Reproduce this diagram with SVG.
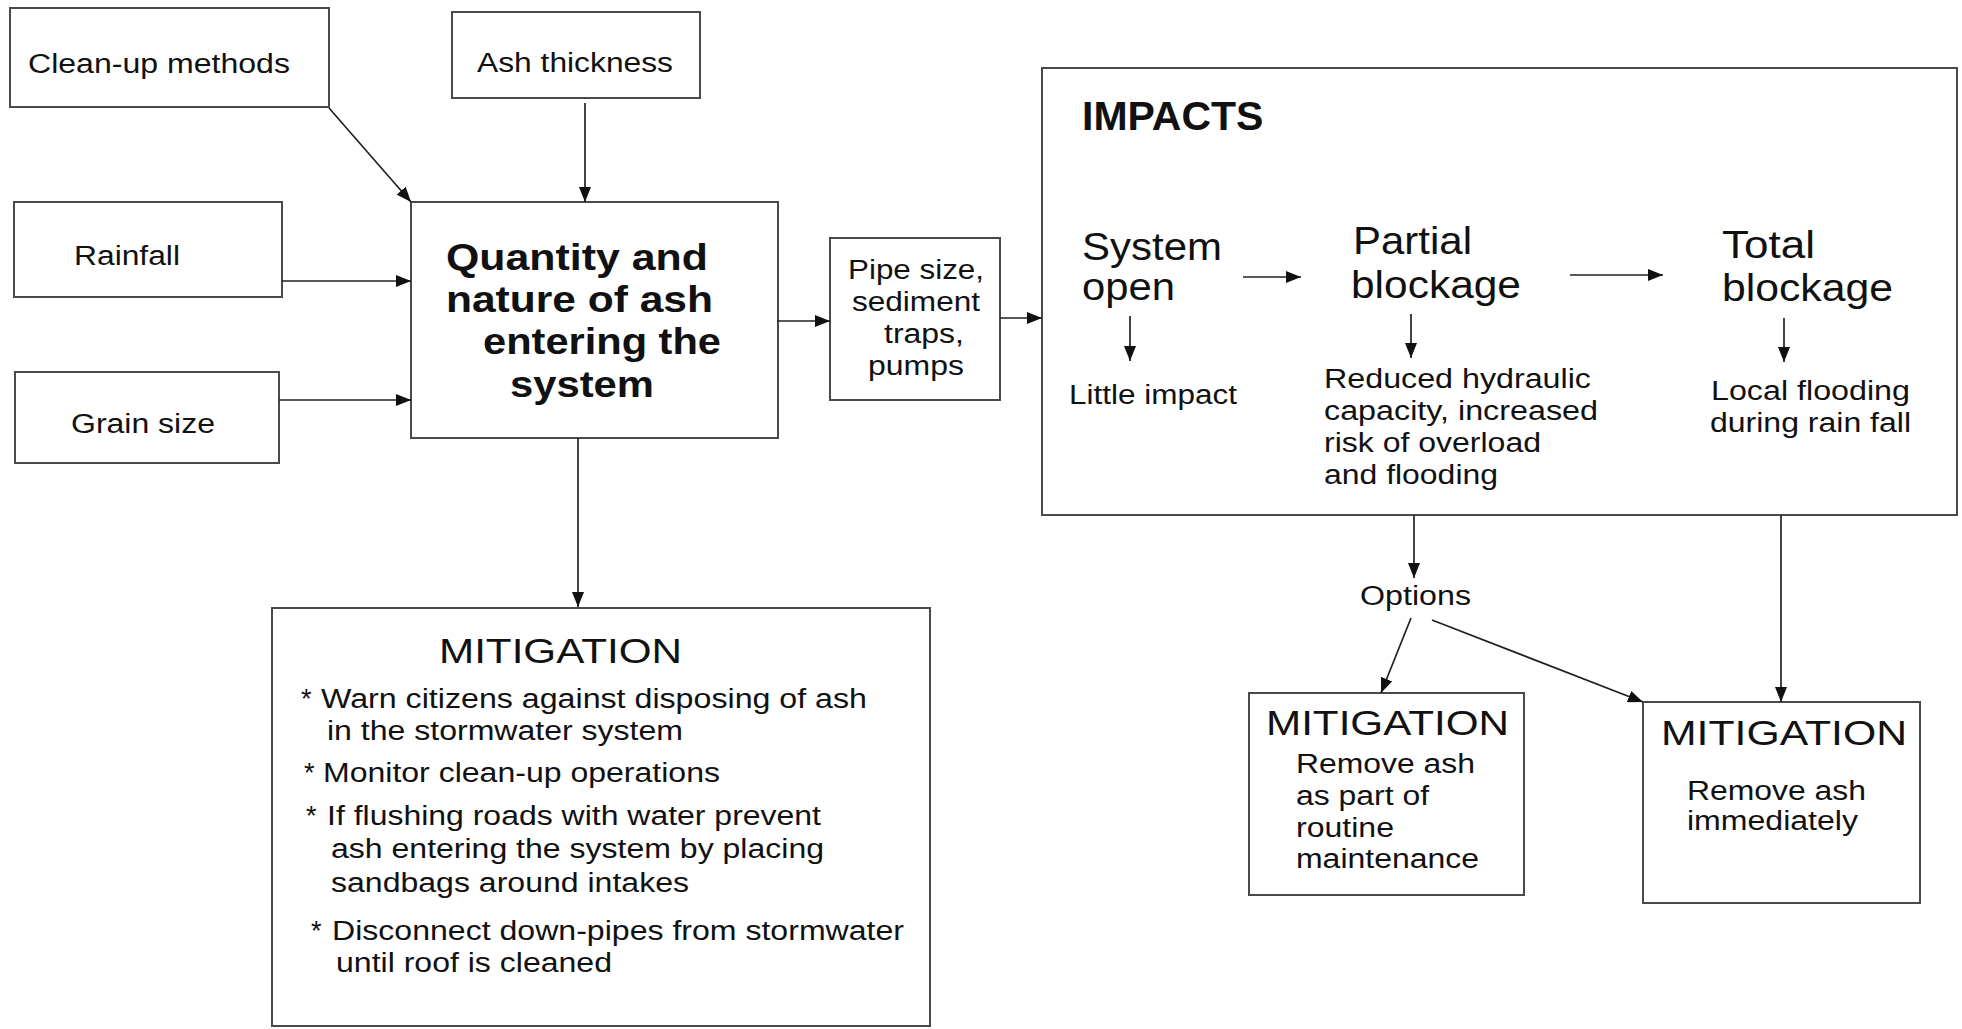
<svg xmlns="http://www.w3.org/2000/svg" width="1962" height="1029" viewBox="0 0 1962 1029">
  <style>
    .box { fill: #ffffff; stroke: #4a4a4a; stroke-width: 2; }
    .t { font-family: "Liberation Sans", Arial, sans-serif; font-size: 27px; fill: #111111; }
    .head { font-size: 38px; }
    .mit { font-size: 35px; }
    .bold { font-weight: bold; font-size: 37px; }
    .conn line { stroke: #222222; stroke-width: 1.7; marker-end: url(#arrow); }
  </style>
  <defs>
    <marker id="arrow" markerUnits="userSpaceOnUse" markerWidth="16" markerHeight="12" refX="15" refY="6" orient="auto">
      <path d="M0,0 L15,6 L0,12 z" fill="#111111"/>
    </marker>
  </defs>
  <rect width="1962" height="1029" fill="#ffffff"/>

  <!-- input factors -->
  <g id="cleanup">
    <rect class="box" x="10" y="8" width="319" height="99"/>
    <text class="t" x="28" y="73" textLength="262" lengthAdjust="spacingAndGlyphs">Clean-up methods</text>
  </g>
  <g id="ash-thickness">
    <rect class="box" x="452" y="12" width="248" height="86"/>
    <text class="t" x="477" y="72" textLength="196" lengthAdjust="spacingAndGlyphs">Ash thickness</text>
  </g>
  <g id="rainfall">
    <rect class="box" x="14" y="202" width="268" height="95"/>
    <text class="t" x="74" y="265" textLength="106" lengthAdjust="spacingAndGlyphs">Rainfall</text>
  </g>
  <g id="grain-size">
    <rect class="box" x="15" y="372" width="264" height="91"/>
    <text class="t" x="71" y="433" textLength="144" lengthAdjust="spacingAndGlyphs">Grain size</text>
  </g>

  <!-- central box -->
  <g id="quantity">
    <rect class="box" x="411" y="202" width="367" height="236"/>
    <text class="t bold" x="446" y="270" textLength="262" lengthAdjust="spacingAndGlyphs">Quantity and</text>
    <text class="t bold" x="446" y="312" textLength="267" lengthAdjust="spacingAndGlyphs">nature of ash</text>
    <text class="t bold" x="483" y="354" textLength="238" lengthAdjust="spacingAndGlyphs">entering the</text>
    <text class="t bold" x="510" y="397" textLength="144" lengthAdjust="spacingAndGlyphs">system</text>
  </g>

  <g id="pipe">
    <rect class="box" x="830" y="238" width="170" height="162"/>
    <text class="t" x="848" y="279" textLength="136" lengthAdjust="spacingAndGlyphs">Pipe size,</text>
    <text class="t" x="852" y="311" textLength="128" lengthAdjust="spacingAndGlyphs">sediment</text>
    <text class="t" x="884" y="343" textLength="80" lengthAdjust="spacingAndGlyphs">traps,</text>
    <text class="t" x="868" y="375" textLength="96" lengthAdjust="spacingAndGlyphs">pumps</text>
  </g>

  <!-- impacts panel -->
  <g id="impacts">
    <rect class="box" x="1042" y="68" width="915" height="447"/>
    <text class="t bold" x="1082" y="130" style="font-size:41px">IMPACTS</text>
    <text class="t head" x="1082" y="260" textLength="140" lengthAdjust="spacingAndGlyphs">System</text>
    <text class="t head" x="1082" y="300" textLength="93" lengthAdjust="spacingAndGlyphs">open</text>
    <text class="t head" x="1353" y="254" textLength="119" lengthAdjust="spacingAndGlyphs">Partial</text>
    <text class="t head" x="1351" y="298" textLength="170" lengthAdjust="spacingAndGlyphs">blockage</text>
    <text class="t head" x="1722" y="258" textLength="93" lengthAdjust="spacingAndGlyphs">Total</text>
    <text class="t head" x="1722" y="301" textLength="171" lengthAdjust="spacingAndGlyphs">blockage</text>
    <text class="t" x="1069" y="404" textLength="168" lengthAdjust="spacingAndGlyphs">Little impact</text>
    <text class="t" x="1324" y="388" textLength="267" lengthAdjust="spacingAndGlyphs">Reduced hydraulic</text>
    <text class="t" x="1324" y="420" textLength="274" lengthAdjust="spacingAndGlyphs">capacity, increased</text>
    <text class="t" x="1324" y="452" textLength="217" lengthAdjust="spacingAndGlyphs">risk of overload</text>
    <text class="t" x="1324" y="484" textLength="174" lengthAdjust="spacingAndGlyphs">and flooding</text>
    <text class="t" x="1711" y="400" textLength="199" lengthAdjust="spacingAndGlyphs">Local flooding</text>
    <text class="t" x="1710" y="432" textLength="201" lengthAdjust="spacingAndGlyphs">during rain fall</text>
  </g>

  <g id="options">
    <text class="t" x="1360" y="605" textLength="111" lengthAdjust="spacingAndGlyphs">Options</text>
  </g>

  <!-- mitigation boxes -->
  <g id="mitigation-main">
    <rect class="box" x="272" y="608" width="658" height="418"/>
    <text class="t mit" x="439" y="663" textLength="243" lengthAdjust="spacingAndGlyphs">MITIGATION</text>
    <text class="t" x="301" y="708">*</text>
    <text class="t" x="321" y="708" textLength="546" lengthAdjust="spacingAndGlyphs">Warn citizens against disposing of ash</text>
    <text class="t" x="327" y="740" textLength="356" lengthAdjust="spacingAndGlyphs">in the stormwater system</text>
    <text class="t" x="304" y="782">*</text>
    <text class="t" x="323" y="782" textLength="397" lengthAdjust="spacingAndGlyphs">Monitor clean-up operations</text>
    <text class="t" x="306" y="825">*</text>
    <text class="t" x="327" y="825" textLength="494" lengthAdjust="spacingAndGlyphs">If flushing roads with water prevent</text>
    <text class="t" x="331" y="858" textLength="493" lengthAdjust="spacingAndGlyphs">ash entering the system by placing</text>
    <text class="t" x="331" y="892" textLength="358" lengthAdjust="spacingAndGlyphs">sandbags around intakes</text>
    <text class="t" x="311" y="940">*</text>
    <text class="t" x="332" y="940" textLength="572" lengthAdjust="spacingAndGlyphs">Disconnect down-pipes from stormwater</text>
    <text class="t" x="336" y="972" textLength="276" lengthAdjust="spacingAndGlyphs">until roof is cleaned</text>
  </g>
  <g id="mitigation-routine">
    <rect class="box" x="1249" y="693" width="275" height="202"/>
    <text class="t mit" x="1266" y="735" textLength="243" lengthAdjust="spacingAndGlyphs">MITIGATION</text>
    <text class="t" x="1296" y="773" textLength="179" lengthAdjust="spacingAndGlyphs">Remove ash</text>
    <text class="t" x="1296" y="805" textLength="133" lengthAdjust="spacingAndGlyphs">as part of</text>
    <text class="t" x="1296" y="837" textLength="98" lengthAdjust="spacingAndGlyphs">routine</text>
    <text class="t" x="1296" y="868" textLength="183" lengthAdjust="spacingAndGlyphs">maintenance</text>
  </g>
  <g id="mitigation-immediate">
    <rect class="box" x="1643" y="702" width="277" height="201"/>
    <text class="t mit" x="1661" y="745" textLength="246" lengthAdjust="spacingAndGlyphs">MITIGATION</text>
    <text class="t" x="1687" y="800" textLength="179" lengthAdjust="spacingAndGlyphs">Remove ash</text>
    <text class="t" x="1687" y="830" textLength="171" lengthAdjust="spacingAndGlyphs">immediately</text>
  </g>

  <!-- connectors -->
  <g id="connectors" class="conn">
    <line x1="329" y1="108" x2="411" y2="202"/>
    <line x1="585" y1="103" x2="585" y2="202"/>
    <line x1="282" y1="281" x2="411" y2="281"/>
    <line x1="279" y1="400" x2="411" y2="400"/>
    <line x1="777" y1="321" x2="830" y2="321"/>
    <line x1="1000" y1="318" x2="1042" y2="318"/>
    <line x1="578" y1="438" x2="578" y2="607"/>
    <line x1="1243" y1="277" x2="1301" y2="277"/>
    <line x1="1570" y1="275" x2="1663" y2="275"/>
    <line x1="1130" y1="316" x2="1130" y2="361"/>
    <line x1="1411" y1="314" x2="1411" y2="358"/>
    <line x1="1784" y1="318" x2="1784" y2="362"/>
    <line x1="1414" y1="515" x2="1414" y2="578"/>
    <line x1="1411" y1="618" x2="1381" y2="693"/>
    <line x1="1432" y1="620" x2="1643" y2="702"/>
    <line x1="1781" y1="515" x2="1781" y2="702"/>
  </g>
</svg>
